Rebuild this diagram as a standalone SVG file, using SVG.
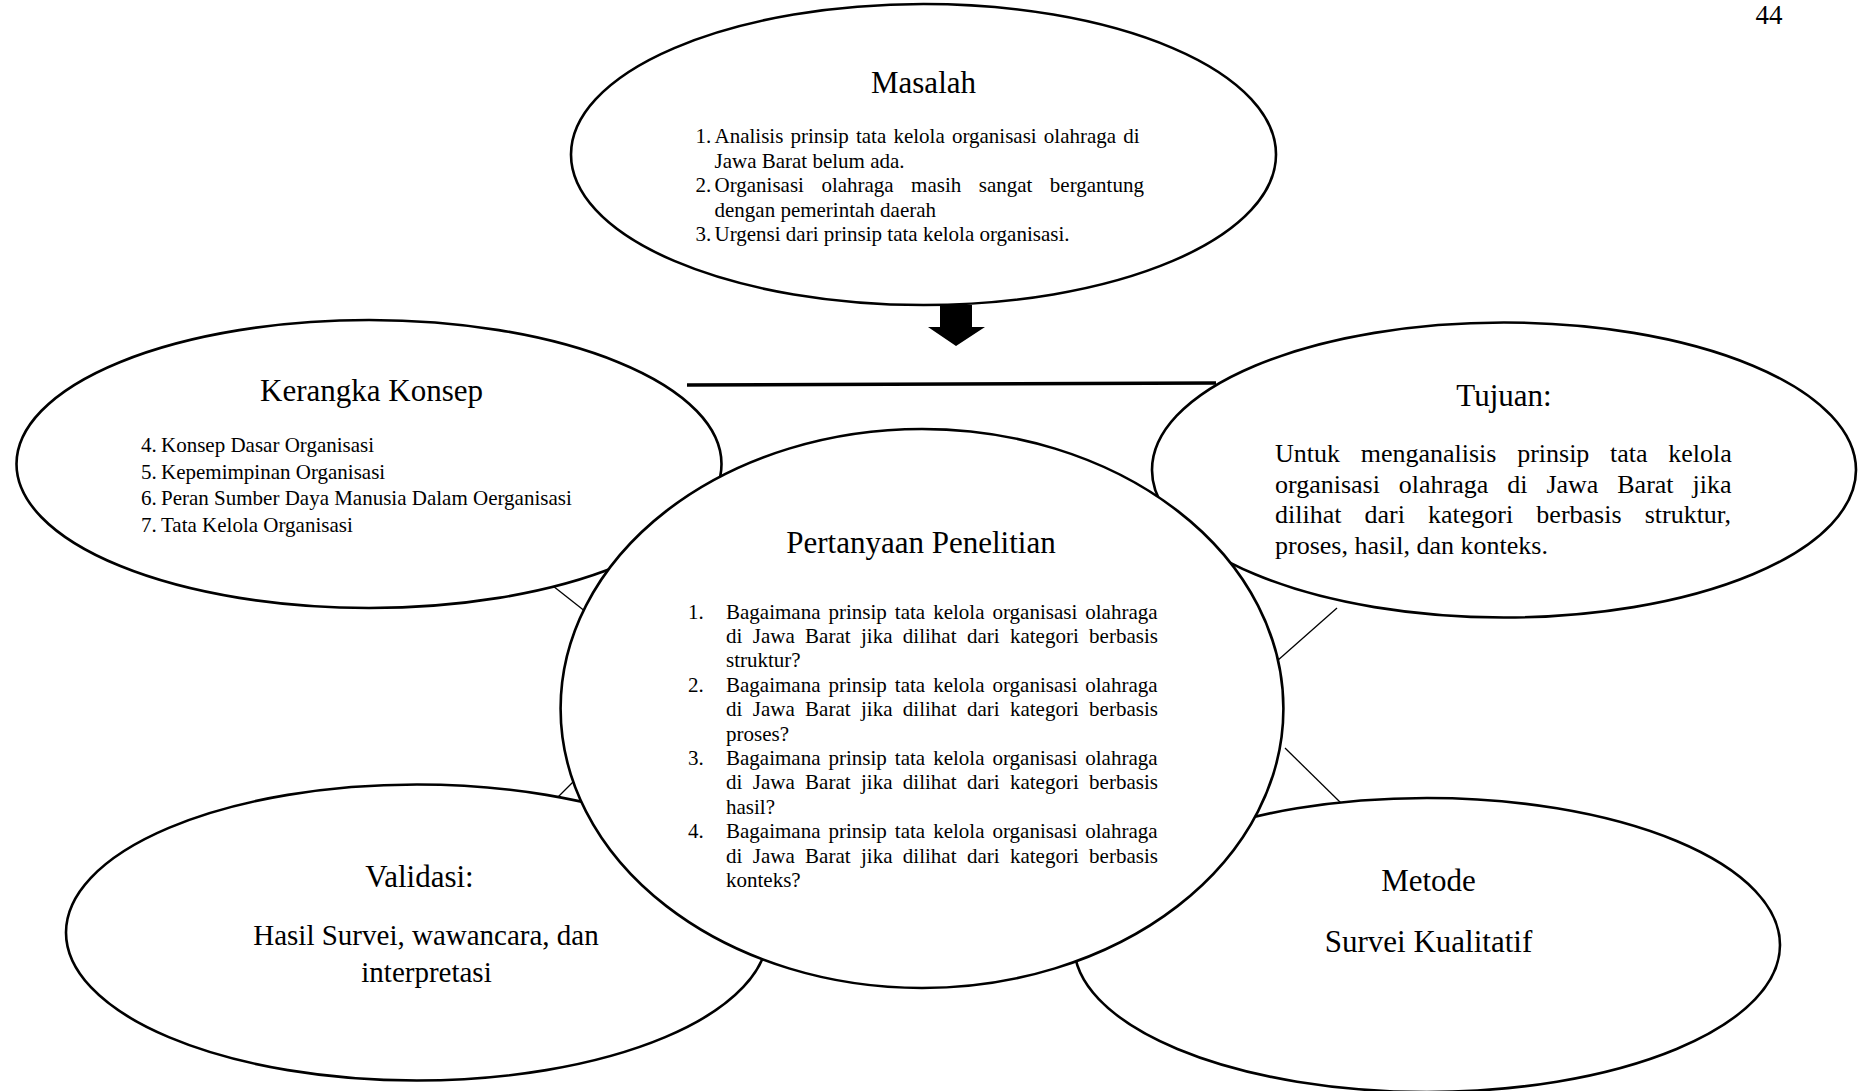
<svg xmlns="http://www.w3.org/2000/svg" width="1858" height="1091" viewBox="0 0 1858 1091">
<style>
  .node { fill: #ffffff; stroke: #000000; stroke-width: 2.6; }
  .title { font-family: "Liberation Serif", "Times New Roman", serif; font-size: 31px; fill: #000; text-anchor: middle; }
  .body { font-family: "Liberation Serif", "Times New Roman", serif; font-size: 21px; fill: #000; }
  .para { font-family: "Liberation Serif", "Times New Roman", serif; font-size: 26px; fill: #000; }
  .big { font-family: "Liberation Serif", "Times New Roman", serif; font-size: 29px; fill: #000; text-anchor: middle; }
  .thin { stroke: #000; stroke-width: 1.3; fill: none; }
</style>
<rect x="0" y="0" width="1858" height="1091" fill="#ffffff"/>
<text x="1769" y="24" class="title" style="font-size:27px">44</text>

<g id="connectors">
  <line x1="687" y1="385" x2="1216" y2="383" stroke="#000" stroke-width="3.6"/>
  <polygon points="940,305 972,305 972,327 985,327 956,346 928,327 940,327" fill="#000"/>
  <line class="thin" x1="553" y1="586" x2="586" y2="612"/>
  <line class="thin" x1="558" y1="797" x2="575" y2="780"/>
  <line class="thin" x1="1337" y1="608" x2="1277" y2="661"/>
  <line class="thin" x1="1285" y1="748" x2="1342" y2="804"/>
</g>

<g id="masalah">
  <ellipse class="node" cx="923.5" cy="154.5" rx="352.5" ry="150.5"/>
  <text x="923.5" y="93" class="title">Masalah</text>
  <text class="body" x="695.5" y="143">1.</text>
  <text class="body" x="714.5" y="143" word-spacing="1.9">Analisis prinsip tata kelola organisasi olahraga di</text>
  <text class="body" x="714.5" y="167.5">Jawa Barat belum ada.</text>
  <text class="body" x="695.5" y="192">2.</text>
  <text class="body" x="714.5" y="192" word-spacing="12.2">Organisasi olahraga masih sangat bergantung</text>
  <text class="body" x="714.5" y="216.5">dengan pemerintah daerah</text>
  <text class="body" x="695.5" y="241">3.</text>
  <text class="body" x="714.5" y="241">Urgensi dari prinsip tata kelola organisasi.</text>
</g>

<g id="kerangka-konsep">
  <ellipse class="node" cx="369" cy="464" rx="352.5" ry="144"/>
  <text x="371.5" y="401" class="title">Kerangka Konsep</text>
  <text class="body" x="141" y="452">4.</text>
  <text class="body" x="161" y="452">Konsep Dasar Organisasi</text>
  <text class="body" x="141" y="478.5">5.</text>
  <text class="body" x="161" y="478.5">Kepemimpinan Organisasi</text>
  <text class="body" x="141" y="505">6.</text>
  <text class="body" x="161" y="505">Peran Sumber Daya Manusia Dalam Oerganisasi</text>
  <text class="body" x="141" y="531.5">7.</text>
  <text class="body" x="161" y="531.5">Tata Kelola Organisasi</text>
</g>

<g id="tujuan">
  <ellipse class="node" cx="1504" cy="470" rx="352" ry="147.5"/>
  <text x="1504" y="406" class="title">Tujuan:</text>
  <text class="para" x="1275" y="462" word-spacing="14.2">Untuk menganalisis prinsip tata kelola</text>
  <text class="para" x="1275" y="492.5" word-spacing="12.4">organisasi olahraga di Jawa Barat jika</text>
  <text class="para" x="1275" y="523" word-spacing="16.6">dilihat dari kategori berbasis struktur,</text>
  <text class="para" x="1275" y="553.5">proses, hasil, dan konteks.</text>
</g>

<g id="validasi">
  <ellipse class="node" cx="417" cy="932.5" rx="351" ry="148"/>
  <text x="419.5" y="887" class="title">Validasi:</text>
  <text x="426" y="944.5" class="big">Hasil Survei, wawancara, dan</text>
  <text x="426.5" y="982" class="big">interpretasi</text>
</g>

<g id="metode">
  <ellipse class="node" cx="1427" cy="945" rx="353" ry="147"/>
  <text x="1428.5" y="891" class="title">Metode</text>
  <text x="1428.5" y="951.5" class="title">Survei Kualitatif</text>
</g>

<g id="pertanyaan-penelitian">
  <ellipse class="node" cx="922" cy="708.5" rx="361.4" ry="279.5"/>
  <text x="921" y="553" class="title">Pertanyaan Penelitian</text>
  <text class="body" x="688" y="618.6">1.</text>
  <text class="body" x="726" y="618.6" word-spacing="2.77">Bagaimana prinsip tata kelola organisasi olahraga</text>
  <text class="body" x="726" y="643" word-spacing="5.14">di Jawa Barat jika dilihat dari kategori berbasis</text>
  <text class="body" x="726" y="667.4">struktur?</text>
  <text class="body" x="688" y="691.8">2.</text>
  <text class="body" x="726" y="691.8" word-spacing="2.77">Bagaimana prinsip tata kelola organisasi olahraga</text>
  <text class="body" x="726" y="716.2" word-spacing="5.14">di Jawa Barat jika dilihat dari kategori berbasis</text>
  <text class="body" x="726" y="740.6">proses?</text>
  <text class="body" x="688" y="765">3.</text>
  <text class="body" x="726" y="765" word-spacing="2.77">Bagaimana prinsip tata kelola organisasi olahraga</text>
  <text class="body" x="726" y="789.4" word-spacing="5.14">di Jawa Barat jika dilihat dari kategori berbasis</text>
  <text class="body" x="726" y="813.8">hasil?</text>
  <text class="body" x="688" y="838.2">4.</text>
  <text class="body" x="726" y="838.2" word-spacing="2.77">Bagaimana prinsip tata kelola organisasi olahraga</text>
  <text class="body" x="726" y="862.6" word-spacing="5.14">di Jawa Barat jika dilihat dari kategori berbasis</text>
  <text class="body" x="726" y="887">konteks?</text>
</g>
</svg>
